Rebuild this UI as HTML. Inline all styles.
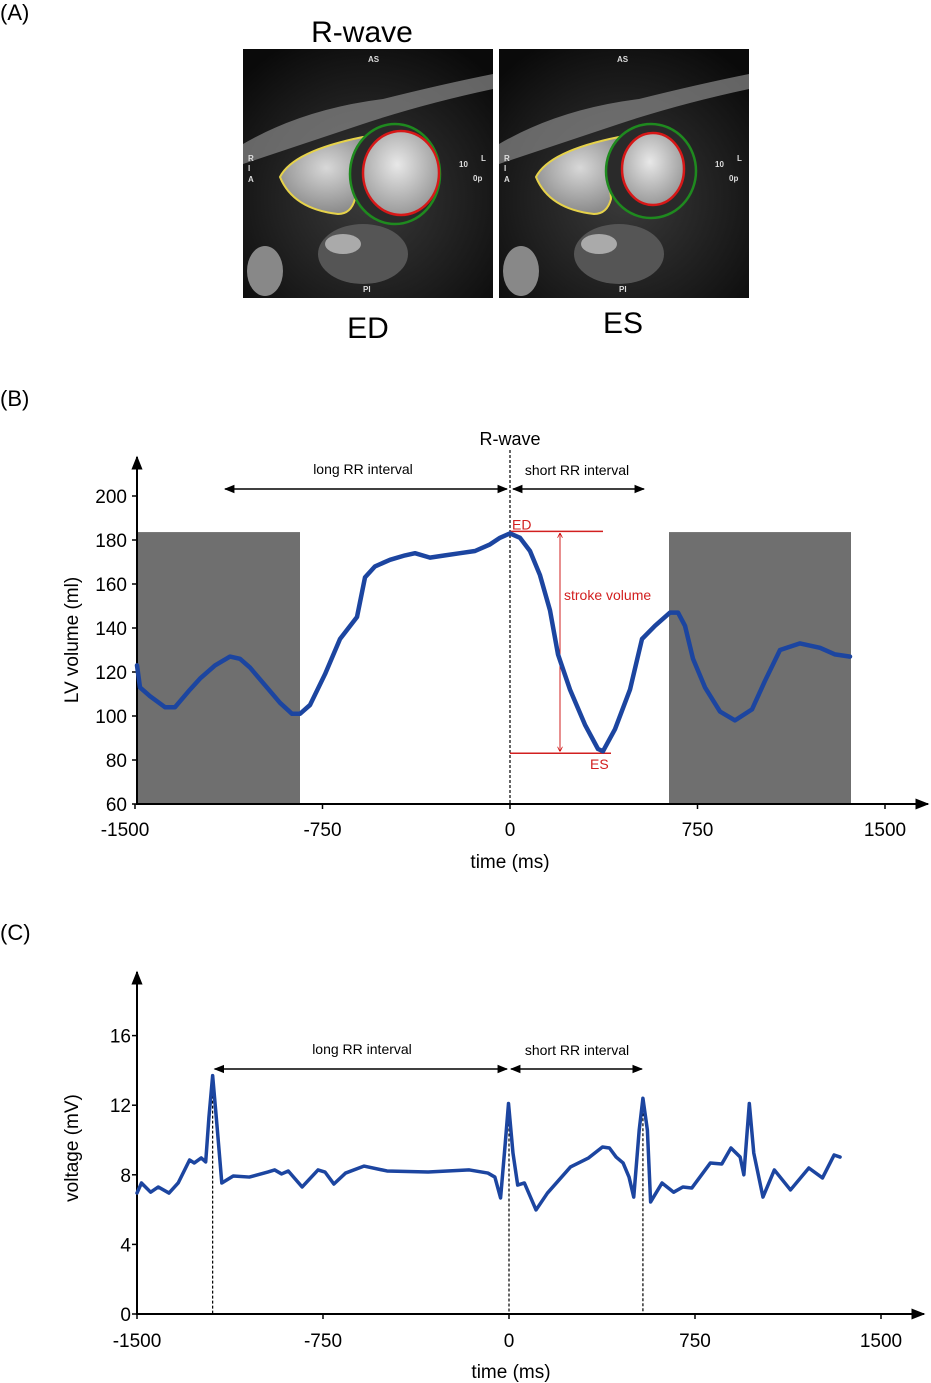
<!DOCTYPE html>
<html><head><meta charset="utf-8"><style>
html,body{margin:0;padding:0;background:#fff}
svg{display:block;font-family:"Liberation Sans",Arial,sans-serif}
</style></head><body>
<svg id="fig" width="931" height="1383" viewBox="0 0 931 1383">
<defs>
<marker id="ah" viewBox="0 0 10 10" refX="9" refY="5" markerWidth="7" markerHeight="7" orient="auto-start-reverse"><path d="M0,1 L10,5 L0,9 z" fill="#000"/></marker>
<marker id="ahr" viewBox="0 0 10 10" refX="9" refY="5" markerWidth="5" markerHeight="5" orient="auto-start-reverse"><path d="M0,0 L10,5 L0,10" fill="none" stroke="#c00" stroke-width="1.5"/></marker>
<radialGradient id="lv" cx="0.45" cy="0.4" r="0.6"><stop offset="0" stop-color="#e8e8e8"/><stop offset="1" stop-color="#9a9a9a"/></radialGradient>
<radialGradient id="rv" cx="0.5" cy="0.4" r="0.6"><stop offset="0" stop-color="#d8d8d8"/><stop offset="1" stop-color="#8a8a8a"/></radialGradient>
<radialGradient id="bg" cx="0.5" cy="0.6" r="0.7"><stop offset="0" stop-color="#3a3a3a"/><stop offset="1" stop-color="#0a0a0a"/></radialGradient>
</defs>

<!-- Panel A -->
<text x="0" y="20" font-size="22">(A)</text>
<text x="362" y="42" font-size="30" text-anchor="middle">R-wave</text>
<g transform="translate(243,49)">
  <rect width="250" height="249" fill="url(#bg)"/>
  <path d="M0,95 Q60,60 140,50 Q200,35 250,25 L250,40 Q180,55 120,75 Q60,95 0,115z" fill="#8a8a8a" opacity="0.7"/>
  <ellipse cx="120" cy="205" rx="45" ry="30" fill="#555"/>
  <ellipse cx="22" cy="222" rx="18" ry="25" fill="#888"/>
  <ellipse cx="100" cy="195" rx="18" ry="10" fill="#aaa"/>
  <path d="M37,128 Q50,102 120,88 L130,98 Q110,120 112,150 Q108,165 95,165 Q50,160 37,128z" fill="url(#rv)" stroke="#e6d24a" stroke-width="2"/>
  <ellipse cx="152" cy="125" rx="45" ry="50" fill="#2a2a2a" stroke="#1f8a1f" stroke-width="2.5"/>
  <ellipse cx="158" cy="124" rx="38" ry="42" fill="url(#lv)" stroke="#d71818" stroke-width="2.5"/>
  <text x="125" y="13" font-size="8" fill="#ddd" font-weight="bold">AS</text>
  <text x="120" y="243" font-size="8" fill="#ddd" font-weight="bold">PI</text>
  <text x="5" y="112" font-size="8" fill="#ddd" font-weight="bold">R</text>
  <text x="5" y="122" font-size="8" fill="#ddd" font-weight="bold">I</text>
  <text x="5" y="133" font-size="8" fill="#ddd" font-weight="bold">A</text>
  <text x="216" y="118" font-size="8" fill="#ddd" font-weight="bold">10</text>
  <text x="238" y="112" font-size="8" fill="#ddd" font-weight="bold">L</text>
  <text x="230" y="132" font-size="8" fill="#ddd" font-weight="bold">0p</text>
</g>
<g transform="translate(499,49)">
  <rect width="250" height="249" fill="url(#bg)"/>
  <path d="M0,95 Q60,60 140,50 Q200,35 250,25 L250,40 Q180,55 120,75 Q60,95 0,115z" fill="#8a8a8a" opacity="0.7"/>
  <ellipse cx="120" cy="205" rx="45" ry="30" fill="#555"/>
  <ellipse cx="22" cy="222" rx="18" ry="25" fill="#888"/>
  <ellipse cx="100" cy="195" rx="18" ry="10" fill="#aaa"/>
  <path d="M37,128 Q50,102 120,88 L125,98 Q108,120 112,150 Q108,165 95,165 Q50,160 37,128z" fill="url(#rv)" stroke="#e6d24a" stroke-width="2"/>
  <ellipse cx="152" cy="122" rx="45" ry="47" fill="#2a2a2a" stroke="#1f8a1f" stroke-width="2.5"/>
  <ellipse cx="154" cy="120" rx="31" ry="36" fill="url(#lv)" stroke="#d71818" stroke-width="2.5"/>
  <text x="118" y="13" font-size="8" fill="#ddd" font-weight="bold">AS</text>
  <text x="120" y="243" font-size="8" fill="#ddd" font-weight="bold">PI</text>
  <text x="5" y="112" font-size="8" fill="#ddd" font-weight="bold">R</text>
  <text x="5" y="122" font-size="8" fill="#ddd" font-weight="bold">I</text>
  <text x="5" y="133" font-size="8" fill="#ddd" font-weight="bold">A</text>
  <text x="216" y="118" font-size="8" fill="#ddd" font-weight="bold">10</text>
  <text x="238" y="112" font-size="8" fill="#ddd" font-weight="bold">L</text>
  <text x="230" y="132" font-size="8" fill="#ddd" font-weight="bold">0p</text>
</g>
<text x="368" y="338" font-size="30" text-anchor="middle">ED</text>
<text x="623" y="333" font-size="30" text-anchor="middle">ES</text>

<!-- Panel B -->
<text x="0" y="406" font-size="22">(B)</text>
<g id="gB"></g>
<!-- Panel C -->
<text x="0" y="940" font-size="22">(C)</text>
<g id="gC"></g>
</svg>
<script>
// ---- Panel B data ----
const volTimes = [-1492,-1480,-1440,-1380,-1340,-1280,-1240,-1180,-1120,-1080,-1040,-980,-920,-872,-840,-800,-740,-680,-612,-580,-540,-480,-420,-380,-320,-260,-200,-140,-80,-40,0,40,80,120,160,192,240,300,352,372,420,480,528,580,640,672,700,732,780,840,900,968,1020,1080,1160,1240,1300,1360];
const volValues = [123,113,109,104,104,112,117,123,127,126,122,114,106,101,101,105,119,135,145,163,168,171,173,174,172,173,174,175,178,181,183,181,175,164,148,128,112,96,85,84,94,112,135,141,147,147,141,126,113,102,98,103,116,130,133,131,128,127];
const volYTicks = [60,80,100,120,140,160,180,200];
const volXTicks = [-1500,-750,0,750,1500];
const volShaded = [[-1492,-840],[636,1364]];
const volShadeTop = 183.6;
const edValue = 183, esValue = 84, esTime = 372;

// ---- Panel C data ----
const ecgTimes = [-1500,-1482,-1445,-1414,-1371,-1334,-1288,-1269,-1241,-1223,-1210,-1195,-1177,-1158,-1112,-1047,-973,-945,-917,-890,-834,-770,-742,-706,-659,-585,-492,-326,-160,-85,-57,-34,-15,-2,16,35,62,109,155,248,321,377,405,432,460,484,503,525,540,558,571,617,664,701,737,812,858,895,932,947,969,987,1024,1070,1135,1209,1264,1311,1335];
const ecgValues = [6.95,7.53,7.0,7.3,6.95,7.53,8.85,8.68,8.97,8.74,11.3,13.7,10.75,7.53,7.93,7.87,8.16,8.28,8.05,8.22,7.3,8.28,8.16,7.47,8.1,8.5,8.22,8.16,8.28,8.1,7.87,6.67,9.83,12.1,9.25,7.41,7.53,5.98,6.95,8.45,8.97,9.6,9.54,9.02,8.68,7.87,6.72,10.57,12.4,10.57,6.44,7.53,7.0,7.3,7.24,8.68,8.62,9.54,9.02,8.0,12.1,9.25,6.72,8.28,7.13,8.39,7.82,9.14,9.02];
const ecgYTicks = [0,4,8,12,16];
const ecgXTicks = [-1500,-750,0,750,1500];
const rPeaks = [-1195,0,540];
const rPeakValues = [13.7,12.1,12.4];

const NS = "http://www.w3.org/2000/svg";
function mk(parent, tag, attrs, text){
  const e = document.createElementNS(NS, tag);
  for (const k in attrs) e.setAttribute(k, attrs[k]);
  if (text !== undefined) e.textContent = text;
  parent.appendChild(e);
  return e;
}

// Panel B axes
const bx = t => 510 + t*0.25;
const by = v => 804 - (v-60)*2.2;
const gB = document.getElementById('gB');
volShaded.forEach(([a,b]) => {
  const r = mk(gB,'rect',{x:bx(a),y:by(volShadeTop),width:bx(b)-bx(a),height:by(60)-by(volShadeTop),fill:'#6f6f6f'});
  
  
});
let l;
l = mk(gB,'line',{x1:137,y1:804,x2:928,y2:804,stroke:'#000','stroke-width':2,'marker-end':'url(#ah)'});
 
l = mk(gB,'line',{x1:137,y1:805,x2:137,y2:457,stroke:'#000','stroke-width':2,'marker-end':'url(#ah)'});
 
volYTicks.forEach(v => {
  mk(gB,'line',{x1:132,y1:by(v),x2:137,y2:by(v),stroke:'#000','stroke-width':1.5});
  const t = mk(gB,'text',{x:127,y:by(v)+7,'font-size':19,'text-anchor':'end'}, v);
   
});
volXTicks.forEach(v => {
  mk(gB,'line',{x1:bx(v),y1:804,x2:bx(v),y2:809,stroke:'#000','stroke-width':1.5});
  const t = mk(gB,'text',{x:bx(v)-(v===-1500?10:0),y:836,'font-size':19,'text-anchor':'middle'}, v);
   
});
let tt;
tt = mk(gB,'text',{x:510,y:868,'font-size':19,'text-anchor':'middle'},'time (ms)');
 
tt = mk(gB,'text',{x:0,y:0,'font-size':19,'text-anchor':'middle',transform:'translate(78,640) rotate(-90)'},'LV volume (ml)');
 
l = mk(gB,'line',{x1:510,y1:450,x2:510,y2:804,stroke:'#000','stroke-width':1.2,'stroke-dasharray':'3,2'});
 
tt = mk(gB,'text',{x:510,y:445,'font-size':18,'text-anchor':'middle'},'R-wave');
 
l = mk(gB,'line',{x1:225,y1:489,x2:507,y2:489,stroke:'#000','stroke-width':1.5,'marker-start':'url(#ah)','marker-end':'url(#ah)'});
 
l = mk(gB,'line',{x1:513,y1:489,x2:644,y2:489,stroke:'#000','stroke-width':1.5,'marker-start':'url(#ah)','marker-end':'url(#ah)'});
 
tt = mk(gB,'text',{x:363,y:474,'font-size':14,'text-anchor':'middle'},'long RR interval');
 
tt = mk(gB,'text',{x:577,y:475,'font-size':14,'text-anchor':'middle'},'short RR interval');
 
// ED/ES lines
l = mk(gB,'line',{x1:510,y1:by(edValue)-2,x2:603,y2:by(edValue)-2,stroke:'#d21f1f','stroke-width':1.5});
 
l = mk(gB,'line',{x1:510,y1:by(esValue)+2,x2:bx(esTime)+8,y2:by(esValue)+2,stroke:'#d21f1f','stroke-width':1.5});
 
l = mk(gB,'line',{x1:560,y1:by(edValue),x2:560,y2:by(esValue),stroke:'#d21f1f','stroke-width':1,'marker-start':'url(#ahr)','marker-end':'url(#ahr)'});
 
tt = mk(gB,'text',{x:512,y:by(edValue)-4,'font-size':14,fill:'#d21f1f'},'ED');
 
tt = mk(gB,'text',{x:590,y:by(esValue)+18,'font-size':14,fill:'#d21f1f'},'ES');
 
tt = mk(gB,'text',{x:564,y:600,'font-size':14,fill:'#d21f1f'},'stroke volume');
 
const volPath = mk(gB,'polyline',{points:volTimes.map((t,i)=>bx(t)+','+by(volValues[i])).join(' '),fill:'none',stroke:'#1c45a0','stroke-width':4.5,'stroke-linejoin':'round','stroke-linecap':'round'});



// Panel C
const cx = t => 509 + t*0.248;
const cy = v => 1314 - v*17.4;
const gC = document.getElementById('gC');
l = mk(gC,'line',{x1:137,y1:1314,x2:924,y2:1314,stroke:'#000','stroke-width':2,'marker-end':'url(#ah)'});
 
l = mk(gC,'line',{x1:137,y1:1315,x2:137,y2:972,stroke:'#000','stroke-width':2,'marker-end':'url(#ah)'});
 
ecgYTicks.forEach(v => {
  mk(gC,'line',{x1:132,y1:cy(v),x2:137,y2:cy(v),stroke:'#000','stroke-width':1.5});
  const t = mk(gC,'text',{x:131,y:cy(v)+7,'font-size':19,'text-anchor':'end'}, v);
   
});
ecgXTicks.forEach(v => {
  mk(gC,'line',{x1:cx(v),y1:1314,x2:cx(v),y2:1319,stroke:'#000','stroke-width':1.5});
  const t = mk(gC,'text',{x:cx(v),y:1347,'font-size':19,'text-anchor':'middle'}, v);
   
});
tt = mk(gC,'text',{x:511,y:1378,'font-size':19,'text-anchor':'middle'},'time (ms)');
 
tt = mk(gC,'text',{x:0,y:0,'font-size':19,'text-anchor':'middle',transform:'translate(78,1148) rotate(-90)'},'voltage (mV)');
 
rPeaks.forEach((t,i) => {
  const d = mk(gC,'line',{x1:cx(t),y1:cy(rPeakValues[i]),x2:cx(t),y2:1314,stroke:'#000','stroke-width':1.2,'stroke-dasharray':'3,2'});
  
  
});
l = mk(gC,'line',{x1:cx(rPeaks[0])+2,y1:1069,x2:cx(rPeaks[1])-2,y2:1069,stroke:'#000','stroke-width':1.5,'marker-start':'url(#ah)','marker-end':'url(#ah)'});
 
l = mk(gC,'line',{x1:cx(rPeaks[1])+2,y1:1069,x2:cx(rPeaks[2])-1,y2:1069,stroke:'#000','stroke-width':1.5,'marker-start':'url(#ah)','marker-end':'url(#ah)'});
 
tt = mk(gC,'text',{x:362,y:1054,'font-size':14,'text-anchor':'middle'},'long RR interval');
 
tt = mk(gC,'text',{x:577,y:1055,'font-size':14,'text-anchor':'middle'},'short RR interval');
 
const ecgPath = mk(gC,'polyline',{points:ecgTimes.map((t,i)=>cx(t)+','+cy(ecgValues[i])).join(' '),fill:'none',stroke:'#1c45a0','stroke-width':3.5,'stroke-linejoin':'round','stroke-linecap':'round'});


</script>
</body></html>
